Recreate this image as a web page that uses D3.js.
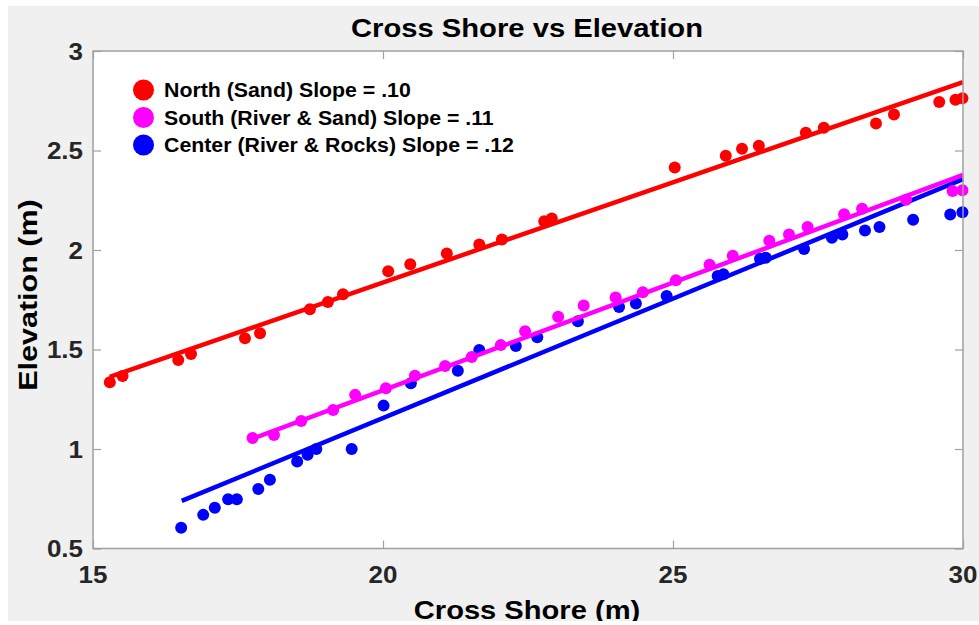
<!DOCTYPE html>
<html>
<head>
<meta charset="utf-8">
<script src="https://cdn.jsdelivr.net/npm/d3@7"></script>
<style>
  body { margin: 0; background: #fff; }
  text { font-family: "Liberation Sans", Arial, sans-serif; font-weight: bold; }
</style>
</head>
<body>
<div id="root"></div>
<script>
// values
const northX = [15.29, 15.51, 16.47, 16.69, 17.62, 17.88, 18.74, 19.05, 19.31, 20.09, 20.47, 21.10, 21.66, 22.05, 22.78, 22.91, 25.03, 25.91, 26.19, 26.48, 27.29, 27.60, 28.50, 28.81, 29.59, 29.87, 29.99];
const northY = [1.335, 1.367, 1.447, 1.477, 1.557, 1.582, 1.702, 1.739, 1.778, 1.893, 1.928, 1.983, 2.028, 2.053, 2.145, 2.158, 2.414, 2.474, 2.509, 2.524, 2.589, 2.614, 2.636, 2.681, 2.744, 2.755, 2.763];

const southX = [17.75, 18.12, 18.59, 19.14, 19.52, 20.05, 20.55, 21.07, 21.53, 22.03, 22.45, 23.02, 23.46, 24.01, 24.48, 25.05, 25.63, 26.03, 26.66, 27.00, 27.32, 27.95, 28.26, 29.02, 29.82, 29.99];
const southY = [1.055, 1.070, 1.141, 1.196, 1.272, 1.305, 1.368, 1.417, 1.462, 1.522, 1.592, 1.664, 1.721, 1.761, 1.788, 1.848, 1.926, 1.971, 2.047, 2.078, 2.115, 2.180, 2.207, 2.252, 2.297, 2.300];

const centerX = [16.52, 16.90, 17.10, 17.33, 17.48, 17.85, 18.05, 18.52, 18.70, 18.85, 19.46, 20.01, 20.48, 21.29, 21.66, 22.29, 22.66, 23.36, 24.07, 24.36, 24.89, 25.77, 25.87, 26.50, 26.60, 27.26, 27.74, 27.92, 28.31, 28.56, 29.14, 29.78, 29.99];
const centerY = [0.604, 0.669, 0.705, 0.747, 0.747, 0.799, 0.846, 0.937, 0.971, 1.000, 1.000, 1.218, 1.330, 1.393, 1.497, 1.517, 1.561, 1.642, 1.714, 1.731, 1.769, 1.869, 1.878, 1.956, 1.961, 2.005, 2.062, 2.078, 2.098, 2.115, 2.152, 2.178, 2.190];

// fitted lines: [x start, y start, x end, y end]
const northFit = [15.29, 1.362, 30, 2.844];
const southFit = [17.71, 1.048, 30, 2.377];
const centerFit = [16.53, 0.739, 30, 2.356];

const seriesNames = ["North (Sand) Slope = .10", "South (River & Sand) Slope = .11", "Center (River & Rocks) Slope = .12"];
const seriesColors = ["#ff0000", "#ff00ff", "#0000ff"];

const xTicks = [15, 20, 25, 30];
const yTicks = [0.5, 1, 1.5, 2, 2.5, 3];

const width = 979;
const height = 625;

const svg = d3.select("#root")
  .append("svg")
    .attr("width", width)
    .attr("height", height);

// figure background
svg.append("rect").attr("x", 8).attr("y", 6).attr("width", width - 8).attr("height", 615).attr("fill", "#f0f0f0");

const x = d3.scaleLinear().domain([15, 30]).range([93, 963]);
const y = d3.scaleLinear().domain([0.5, 3]).range([548.5, 51]);

svg.append("rect")
  .attr("x", x(15)).attr("y", y(3))
  .attr("width", x(30) - x(15)).attr("height", y(0.5) - y(3))
  .attr("fill", "#fff");

// text stretched along its reading direction, the font in the picture is wider than Arial
const label = (g, str, tx, ty, size, sx, anchor, rot) => g.append("text")
  .attr("transform", `translate(${tx},${ty})` + (rot ? ` scale(1,${sx}) rotate(-90)` : ` scale(${sx},1)`))
  .attr("text-anchor", anchor)
  .attr("font-size", size)
  .text(str);

const series = [
  { xs: centerX, ys: centerY, fit: centerFit, color: seriesColors[2] },
  { xs: southX, ys: southY, fit: southFit, color: seriesColors[1] },
  { xs: northX, ys: northY, fit: northFit, color: seriesColors[0] }
];

const plot = svg.append("g");
series.forEach(s => {
  plot.append("g").selectAll("circle")
    .data(s.xs.map((v, i) => [v, s.ys[i]]))
    .join("circle")
      .attr("cx", d => x(d[0]))
      .attr("cy", d => y(d[1]))
      .attr("r", 6)
      .attr("fill", s.color);
  plot.append("line")
    .attr("x1", x(s.fit[0])).attr("y1", y(s.fit[1]))
    .attr("x2", x(s.fit[2])).attr("y2", y(s.fit[3]))
    .attr("stroke", s.color)
    .attr("stroke-width", 4.5);
});

// box and inward ticks
const axisColor = "#a0a0a0";
svg.append("rect")
  .attr("x", x(15)).attr("y", y(3))
  .attr("width", x(30) - x(15)).attr("height", y(0.5) - y(3))
  .attr("fill", "none").attr("stroke", axisColor).attr("stroke-width", 1.5);

const axisB = svg.append("g").attr("transform", `translate(0,${y(0.5)})`)
  .call(d3.axisBottom(x).tickValues(xTicks).tickSize(-8).tickFormat(""));
const axisT = svg.append("g").attr("transform", `translate(0,${y(3)})`)
  .call(d3.axisTop(x).tickValues(xTicks).tickSize(-8).tickFormat(""));
const axisL = svg.append("g").attr("transform", `translate(${x(15)},0)`)
  .call(d3.axisLeft(y).tickValues(yTicks).tickSize(-8).tickFormat(""));
const axisR = svg.append("g").attr("transform", `translate(${x(30)},0)`)
  .call(d3.axisRight(y).tickValues(yTicks).tickSize(-8).tickFormat(""));
[axisB, axisT, axisL, axisR].forEach(a => {
  a.select(".domain").remove();
  a.selectAll("line").attr("stroke", axisColor).attr("stroke-width", 1.2);
});

// tick labels
const tickLabels = svg.append("g").attr("fill", "#262626");
xTicks.forEach(t => label(tickLabels, d3.format("d")(t), x(t), 583, 23, 1.13, "middle"));
yTicks.forEach(t => label(tickLabels, String(t), 83, y(t) + 8.5, 23, 1.13, "end"));

// titles
label(svg, "Cross Shore vs Elevation", 527, 36.5, 25.5, 1.145, "middle");
label(svg, "Cross Shore (m)", 527, 619, 26, 1.12, "middle");
label(svg, "Elevation (m)", 37, 295, 25, 1.22, "middle", true);

// legend
const legend = svg.append("g");
seriesNames.forEach((name, i) => {
  const ly = 90 + i * 27.5;
  legend.append("circle").attr("cx", 143.5).attr("cy", ly).attr("r", 10.5).attr("fill", seriesColors[i]);
  label(legend, name, 164, ly + 7.3, 20, 1.066, "start");
});

// bottom strip of the screenshot
svg.append("rect").attr("x", 0).attr("y", 621).attr("width", width).attr("height", 4).attr("fill", "#fff");
</script>
</body>
</html>
